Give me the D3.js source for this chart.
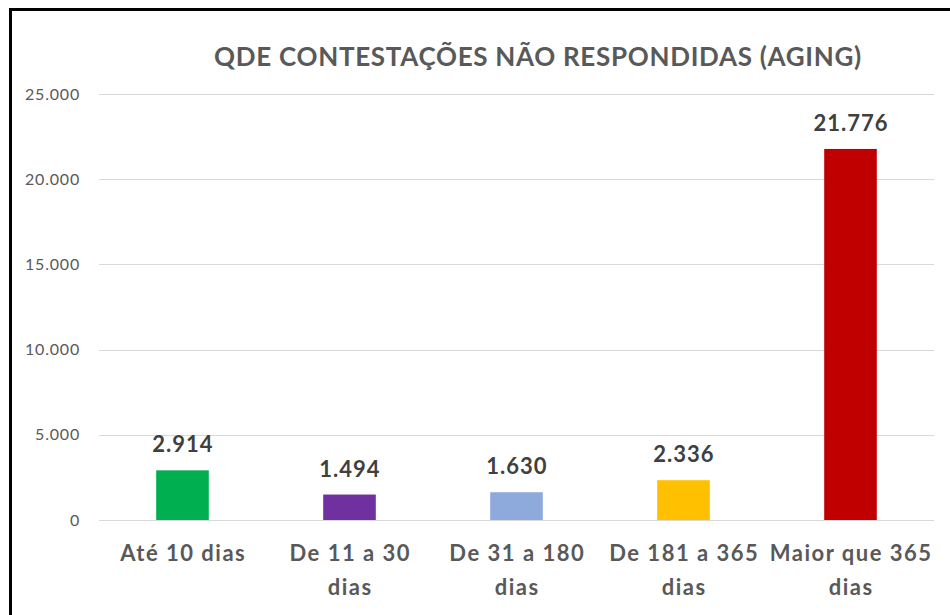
<!DOCTYPE html>
<html>
<head>
<meta charset="utf-8">
<script src="https://cdn.jsdelivr.net/npm/d3@7"></script>
<style>
  body { margin: 0; background: #fff; }
  svg { display: block; font-family: Lato, "Open Sans", sans-serif; }
</style>
</head>
<body>
<svg id="chart"></svg>
<script>
// Chart data
const categories = [["Até 10 dias"], ["De 11 a 30", "dias"], ["De 31 a 180", "dias"], ["De 181 a 365", "dias"], ["Maior que 365", "dias"]];
const values = [2914, 1494, 1630, 2336, 21776];
const barColors = ["#00B050", "#7030A0", "#8EA9DB", "#FFC000", "#C00000"];
const yTicks = [0, 5000, 10000, 15000, 20000, 25000];
const title = "QDE CONTESTAÇÕES NÃO RESPONDIDAS (AGING)";

const width = 950, height = 615;
const margin = { top: 94, right: 16, bottom: 95, left: 99 };

const svg = d3.select("#chart").attr("width", width).attr("height", height);

// Outer frame
svg.append("rect")
  .attr("x", 10.5).attr("y", 9.5)
  .attr("width", 960).attr("height", 640)
  .attr("fill", "none")
  .attr("stroke", "#000")
  .attr("stroke-width", 3);

const fmt = d3.formatLocale({ decimal: ",", thousands: ".", grouping: [3], currency: ["R$", ""] }).format(",d");

const x = d3.scaleBand()
  .domain(d3.range(values.length))
  .range([margin.left, width - margin.right])
  .paddingInner(0.685)
  .paddingOuter(0.3425);

const y = d3.scaleLinear()
  .domain([0, 25000])
  .range([height - margin.bottom, margin.top]);

// Gridlines
svg.append("g")
  .selectAll("line")
  .data(yTicks)
  .join("line")
  .attr("x1", margin.left).attr("x2", width - margin.right)
  .attr("y1", d => Math.round(y(d)) + 0.5).attr("y2", d => Math.round(y(d)) + 0.5)
  .attr("stroke", "#d9d9d9")
  .attr("stroke-width", 1);

// Y axis labels
const yAxis = svg.append("g")
  .attr("transform", `translate(${margin.left - 19},0)`)
  .call(d3.axisLeft(y).tickValues(yTicks).tickFormat(fmt).tickSize(0).tickPadding(0));
yAxis.select(".domain").remove();
yAxis.selectAll("text")
  .attr("fill", "#595959")
  .attr("font-size", 16)
  .attr("letter-spacing", 0.8)
  .attr("font-family", "Lato, sans-serif");

// Bars
svg.append("g")
  .selectAll("rect")
  .data(values)
  .join("rect")
  .attr("x", (d, i) => x(i))
  .attr("y", d => y(d))
  .attr("width", x.bandwidth())
  .attr("height", d => y(0) - y(d))
  .attr("fill", (d, i) => barColors[i]);

// Value labels
svg.append("g")
  .selectAll("text")
  .data(values)
  .join("text")
  .attr("x", (d, i) => x(i) + x.bandwidth() / 2 + 0.5)
  .attr("y", d => y(d) - 18)
  .attr("text-anchor", "middle")
  .attr("font-size", 22)
  .attr("letter-spacing", 1)
  .attr("font-weight", "bold")
  .attr("fill", "#404040")
  .text(d => fmt(d));

// Category labels
const catG = svg.append("g")
  .selectAll("text")
  .data(categories)
  .join("text")
  .attr("x", (d, i) => x(i) + x.bandwidth() / 2 + 0.75)
  .attr("y", 561)
  .attr("text-anchor", "middle")
  .attr("font-size", 22)
  .attr("letter-spacing", 1.5)
  .attr("font-weight", "bold")
  .attr("fill", "#595959");
catG.selectAll("tspan")
  .data(d => d)
  .join("tspan")
  .attr("x", function() { return d3.select(this.parentNode).attr("x"); })
  .attr("dy", (d, i) => i === 0 ? 0 : 34)
  .text(d => d);

// Title
svg.append("text")
  .attr("x", 538)
  .attr("y", 66)
  .attr("text-anchor", "middle")
  .attr("font-size", 26)
  .attr("letter-spacing", 0.7)
  .attr("font-weight", "bold")
  .attr("fill", "#595959")
  .text(title);
</script>
</body>
</html>
